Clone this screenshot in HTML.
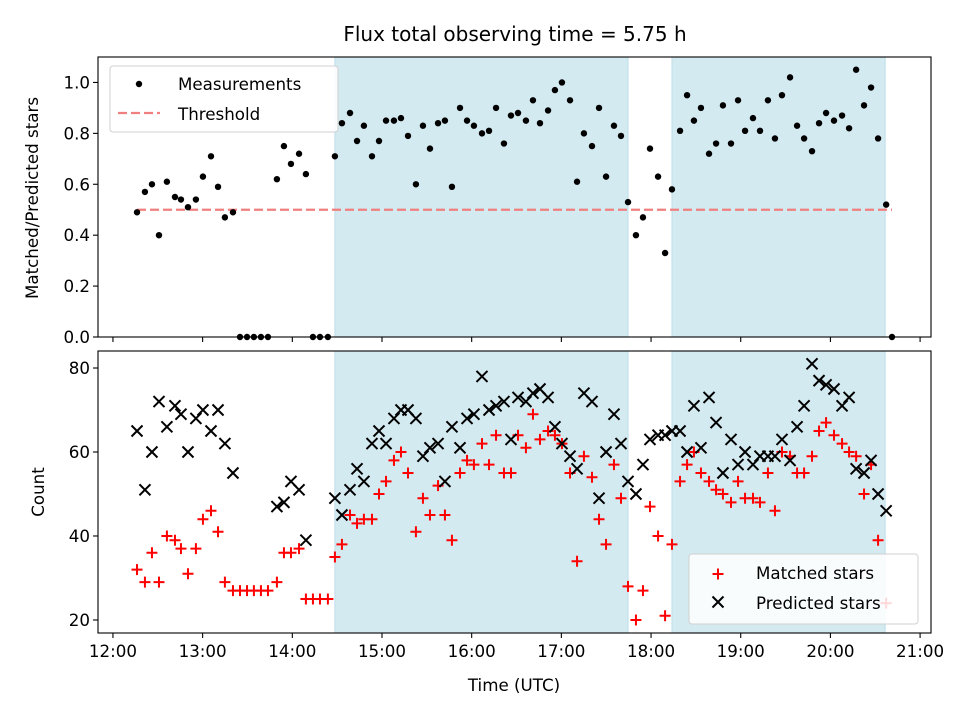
<!DOCTYPE html>
<html><head><meta charset="utf-8"><style>
body{margin:0;background:#fff;}
svg{display:block;font-family:"DejaVu Sans","Liberation Sans",sans-serif;}
</style></head><body>
<svg id="fig" width="960" height="720" viewBox="0 0 960 720" xmlns="http://www.w3.org/2000/svg"></svg>
<script>
// minutes after 12:00 UTC
const times=[16.1,21.4,26.1,30.8,36.1,41.5,45.5,50.2,55.5,60.2,65.6,70.3,74.9,80.3,85.0,89.7,94.3,99.0,103.7,109.7,114.4,119.1,124.5,129.1,133.8,138.5,143.8,148.5,153.2,158.6,163.3,167.9,173.3,178.0,182.7,188.0,192.7,197.4,202.7,207.4,212.1,217.5,222.1,226.8,232.2,236.9,241.5,246.9,251.6,256.3,261.6,266.3,271.0,276.3,281.0,285.7,291.1,295.7,300.4,305.8,310.5,315.1,320.5,325.2,329.9,335.2,339.9,344.6,349.9,354.6,359.3,364.7,369.4,374.0,379.4,384.1,388.7,393.4,398.8,403.5,408.1,413.5,418.2,422.9,428.2,432.9,438.2,442.9,447.6,453.0,457.7,462.4,467.7,472.4,477.1,482.4,487.8,492.5,497.2,502.5,507.2,511.9,517.3,521.2];
const ratio=[.49,.57,.60,.40,.61,.55,.54,.51,.54,.63,.71,.59,.47,.49,0,0,0,0,0,.62,.75,.68,.72,.64,0,0,0,.71,.84,.88,.77,.83,.71,.77,.85,.85,.86,.79,.60,.83,.74,.84,.85,.59,.90,.85,.83,.80,.81,.90,.76,.87,.88,.85,.93,.84,.89,.97,1.00,.93,.61,.80,.75,.90,.63,.83,.79,.53,.40,.47,.74,.63,.33,.58,.81,.95,.85,.90,.72,.76,.91,.76,.93,.81,.86,.81,.93,.78,.95,1.02,.83,.78,.73,.84,.88,.85,.87,.82,1.05,.91,.98,.78,.52,0];
const matched=[32,29,36,29,40,39,37,31,37,44,46,41,29,27,27,27,27,27,27,29,36,36,37,25,25,25,25,35,38,45,43,44,44,50,53,58,60,55,41,49,45,52,45,39,55,58,57,62,57,64,55,55,64,61,69,63,65,64,62,55,34,59,54,44,38,57,49,28,20,27,47,40,21,38,53,57,60,55,53,51,50,48,53,49,49,48,55,46,60,59,55,55,59,65,67,64,62,60,59,50,57,39,24,null];
const predicted=[65,51,60,72,66,71,69,60,68,70,65,70,62,55,null,null,null,null,null,47,48,53,51,39,null,null,null,49,45,51,56,53,62,65,62,68,70,70,68,59,61,62,53,66,61,68,69,78,70,71,72,63,73,72,74,75,73,66,62,59,56,74,72,49,60,69,62,53,50,57,63,64,64,65,65,60,71,61,73,67,55,63,57,60,57,59,59,59,63,58,66,71,81,77,76,75,71,73,56,55,58,50,46,null];
const spans=[[148.5,344.6],[374.0,516.6]];
const threshold=0.5;
const xTickLabels=["12:00","13:00","14:00","15:00","16:00","17:00","18:00","19:00","20:00","21:00"];
const topYTicks=[0.0,0.2,0.4,0.6,0.8,1.0];
const botYTicks=[20,40,60,80];

const NS="http://www.w3.org/2000/svg";
const svg=document.getElementById('fig');
function mk(tag,attrs,parent){const e=document.createElementNS(NS,tag);for(const k in attrs)e.setAttribute(k,attrs[k]);(parent||svg).appendChild(e);return e;}
const L=98,R=931;
const xmin=-10.0,xmax=547.3;
const X=m=>L+(m-xmin)/(xmax-xmin)*(R-L);
const T={top:57,bot:337,ymin:0,ymax:1.1};
const B={top:351,bot:633,ymin:16.9,ymax:84.05};
const Yt=v=>T.bot-(v-T.ymin)/(T.ymax-T.ymin)*(T.bot-T.top);
const Yb=v=>B.bot-(v-B.ymin)/(B.ymax-B.ymin)*(B.bot-B.top);

function panel(P,Y,name){
  const g=mk('g',{});
  
  
  spans.forEach((s,i)=>{const r=mk('rect',{x:X(s[0]),y:P.top,width:X(s[1])-X(s[0]),height:P.bot-P.top,fill:'#d4eaf1',stroke:'#bcdde8','stroke-width':1},g);
    
    });
  return g;
}
function frame(P,name){
  const r=mk('rect',{x:L,y:P.top,width:R-L,height:P.bot-P.top,fill:'none',stroke:'#000','stroke-width':1.1});
  
  
  xTickLabels.forEach((t,i)=>{const x=X(i*60);mk('line',{x1:x,x2:x,y1:P.bot,y2:P.bot+5,stroke:'#000','stroke-width':1.1});});
}
// top panel
const gt=panel(T,Yt,'ratio-panel');
const th=mk('line',{x1:X(times[0]),x2:X(times[times.length-1]),y1:Yt(threshold),y2:Yt(threshold),stroke:'#f08080','stroke-width':2.2,'stroke-dasharray':'9,4'},gt);


times.forEach((t,i)=>{if(ratio[i]==null)return;
  const c=mk('circle',{cx:X(t),cy:Yt(ratio[i]),r:3.2,fill:'#000'},gt);
  
  });
frame(T,'ratio-axes');
topYTicks.forEach(v=>{const y=Yt(v);mk('line',{x1:L-5,x2:L,y1:y,y2:y,stroke:'#000','stroke-width':1.1});
  const tx=mk('text',{x:L-8,y:y+6,'text-anchor':'end','font-size':16.7});tx.textContent=v.toFixed(1);
  
  });

// bottom panel
const gb=panel(B,Yb,'count-panel');
times.forEach((t,i)=>{
  if(matched[i]!=null){const x=X(t),y=Yb(matched[i]);
    const p=mk('path',{d:`M${x-5.5},${y}H${x+5.5}M${x},${y-5.5}V${y+5.5}`,stroke:'#ff0000','stroke-width':2,fill:'none'},gb);
    
    }
});
times.forEach((t,i)=>{
  if(predicted[i]!=null){const x=X(t),y=Yb(predicted[i]);
    const p=mk('path',{d:`M${x-5.5},${y-5.5}L${x+5.5},${y+5.5}M${x-5.5},${y+5.5}L${x+5.5},${y-5.5}`,stroke:'#000','stroke-width':2,fill:'none'},gb);
    
    }
});
frame(B,'count-axes');
botYTicks.forEach(v=>{const y=Yb(v);mk('line',{x1:L-5,x2:L,y1:y,y2:y,stroke:'#000','stroke-width':1.1});
  const tx=mk('text',{x:L-8,y:y+6,'text-anchor':'end','font-size':16.7});tx.textContent=v;
  
  });
xTickLabels.forEach((t,i)=>{const tx=mk('text',{x:X(i*60),y:B.bot+24,'text-anchor':'middle','font-size':16.7});tx.textContent=t;
  
  });
</script>
<svg style="position:absolute;left:0;top:0" width="960" height="720">
  <g font-family="DejaVu Sans, Liberation Sans, sans-serif" fill="#000">
    <text x="515" y="41" text-anchor="middle" font-size="20">Flux total observing time = 5.75 h</text>
    <text x="514" y="691" text-anchor="middle" font-size="16.7">Time (UTC)</text>
    <text transform="translate(38,198) rotate(-90)" text-anchor="middle" font-size="16.7">Matched/Predicted stars</text>
    <text transform="translate(44,492) rotate(-90)" text-anchor="middle" font-size="16.7">Count</text>
    <g>
      <rect x="110" y="66" width="228" height="66" rx="3" fill="#fff" fill-opacity="0.85" stroke="#d0d0d0"/>
      <circle cx="139" cy="84" r="3.2" fill="#000"/>
      <text x="178" y="90" font-size="16.7">Measurements</text>
      <line x1="118" x2="160" y1="113" y2="113" stroke="#f08080" stroke-width="2.2" stroke-dasharray="9,4"/>
      <text x="178" y="120" font-size="16.7">Threshold</text>
    </g>
    <g>
      <rect x="689" y="554" width="229" height="70" rx="3" fill="#fff" fill-opacity="0.85" stroke="#d0d0d0"/>
      <path d="M712.5,574H723.5M718,568.5V579.5" stroke="#ff0000" stroke-width="2" fill="none"/>
      <text x="756" y="579" font-size="16.7">Matched stars</text>
      <path d="M712.5,596.5L723.5,607.5M712.5,607.5L723.5,596.5" stroke="#000" stroke-width="2" fill="none"/>
      <text x="756" y="609" font-size="16.7">Predicted stars</text>
    </g>
  </g>
</svg>
</body></html>
